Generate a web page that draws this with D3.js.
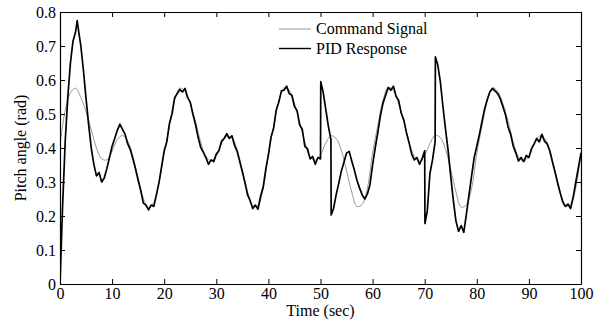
<!DOCTYPE html>
<html>
<head>
<meta charset="utf-8">
<script src="https://cdn.jsdelivr.net/npm/d3@7"></script>
<style>
  body { margin: 0; background: #fff; }
  svg { display: block; font-family: 'Liberation Serif', 'Times New Roman', serif; }
</style>
</head>
<body>
<svg id="chart"></svg>
<script>
// x ticks / y ticks
const xTicks = [0, 10, 20, 30, 40, 50, 60, 70, 80, 90, 100];
const yTicks = [0, 0.1, 0.2, 0.3, 0.4, 0.5, 0.6, 0.7, 0.8];
const seriesNames = ['Command Signal', 'PID Response'];

// command signal, one value per second (t = 0..100)
const cmdValues = [
  .410, .510, .562, .576, .548, .507, .453, .400, .368, .365,
  .390, .425, .437, .420, .375, .310, .252, .226, .240, .300,
  .385, .465, .540, .576, .568, .530, .478, .418, .375, .362,
  .378, .412, .434, .430, .395, .335, .272, .230, .232, .280,
  .383, .463, .538, .577, .570, .532, .476, .416, .373, .364,
  .380, .414, .436, .428, .393, .333, .270, .228, .234, .282,
  .386, .466, .541, .578, .569, .529, .477, .419, .376, .363,
  .379, .413, .437, .431, .396, .336, .271, .226, .233, .281,
  .384, .464, .539, .577, .567, .531, .479, .417, .374, .361,
  .377, .411, .435, .429, .394, .334, .273, .229, .235, .283,
  .388
];

// PID response, one value every 0.5 s (t = 0..100)
const pidValues = [
  .000, .230, .420, .550, .650, .715, .742, .752, .700, .628,
  .545, .468, .400, .352, .318, .328, .300, .312, .340, .372,
  .405, .428, .452, .470, .455, .440, .412, .395, .368, .338,
  .305, .275, .238, .232, .218, .232, .228, .262, .298, .345,
  .392, .418, .472, .500, .548, .560, .572, .565, .575, .548,
  .535, .500, .470, .432, .402, .388, .372, .352, .365, .360,
  .382, .392, .420, .428, .442, .428, .436, .408, .390, .360,
  .330, .298, .262, .245, .222, .232, .220, .258, .285, .338,
  .380, .432, .458, .512, .535, .568, .570, .582, .560, .555,
  .522, .510, .468, .455, .405, .398, .368, .375, .352, .372,
  .368, .565, .515, .465, .425, .222, .262, .296, .332, .358,
  .385, .390, .362, .335, .305, .282, .262, .250, .265, .292,
  .350, .400, .445, .495, .532, .555, .578, .570, .582, .552,
  .540, .502, .482, .445, .415, .382, .365, .372, .352, .368,
  .392, .215, .325, .365, .418, .645, .595, .522, .455, .392,
  .316, .245, .185, .155, .172, .152, .205, .262, .318, .372,
  .405, .440, .478, .515, .542, .565, .575, .568, .560, .545,
  .522, .498, .462, .440, .405, .385, .362, .372, .360, .378,
  .372, .398, .412, .428, .418, .440, .420, .412, .392, .360,
  .330, .298, .268, .242, .228, .235, .222, .255, .300, .342,
  .385
];

// extra samples at the spikes / jumps: [time, value]
const pidJumps = [
  [3.3, .775],
  [50.05, .595],
  [52.05, .203],
  [70.05, .178],
  [72.05, .668]
];

const W = 597, H = 324;
const margin = {top: 12, right: 16, bottom: 40, left: 60};
const plotW = W - margin.left - margin.right;
const plotH = H - margin.top - margin.bottom;

const svg = d3.select('#chart').attr('width', W).attr('height', H);

const x = d3.scaleLinear().domain([0, 100]).range([0, plotW]);
const y = d3.scaleLinear().domain([0, 0.8]).range([plotH, 0]);

const g = svg.append('g').attr('transform', `translate(${margin.left},${margin.top})`);

g.append('clipPath').attr('id', 'clip')
  .append('rect').attr('width', plotW).attr('height', plotH);

const cmdData = cmdValues.map((v, i) => ({t: i, v: v}));
const pidData = pidValues.map((v, i) => ({t: i * 0.5, v: v}))
  .concat(pidJumps.map(d => ({t: d[0], v: d[1]})))
  .sort((a, b) => a.t - b.t);

const line = d3.line().x(d => x(d.t)).y(d => y(d.v));

g.append('path')
  .datum(cmdData)
  .attr('clip-path', 'url(#clip)')
  .attr('fill', 'none')
  .attr('stroke', '#979797')
  .attr('stroke-width', 1)
  .attr('d', line.curve(d3.curveCatmullRom));

g.append('path')
  .datum(pidData)
  .attr('clip-path', 'url(#clip)')
  .attr('fill', 'none')
  .attr('stroke', '#000')
  .attr('stroke-width', 1.7)
  .attr('stroke-linejoin', 'round')
  .attr('d', line.curve(d3.curveLinear));

// axes: ticks point inward, box on all four sides
const fmtY = d => d === 0 ? '0' : d3.format('.1f')(d);

g.append('g')
  .attr('transform', `translate(0,${plotH})`)
  .call(d3.axisBottom(x).tickValues(xTicks).tickSizeInner(-5).tickSizeOuter(0).tickPadding(4));
g.append('g')
  .call(d3.axisTop(x).tickValues(xTicks).tickSizeInner(-5).tickSizeOuter(0).tickFormat(''));
g.append('g')
  .call(d3.axisLeft(y).tickValues(yTicks).tickSizeInner(-5).tickSizeOuter(0).tickPadding(4).tickFormat(fmtY));
g.append('g')
  .attr('transform', `translate(${plotW},0)`)
  .call(d3.axisRight(y).tickValues(yTicks).tickSizeInner(-5).tickSizeOuter(0).tickFormat(''));

g.selectAll('.domain').attr('stroke', '#000').attr('stroke-width', 1.2);
g.selectAll('.tick line').attr('stroke', '#000');
g.selectAll('.tick text')
  .attr('font-family', "'Liberation Serif', 'Times New Roman', serif")
  .attr('font-size', 16)
  .attr('fill', '#000');

// axis titles
svg.append('text')
  .attr('x', margin.left + x(50))
  .attr('y', 316)
  .attr('text-anchor', 'middle')
  .attr('font-size', 16)
  .text('Time (sec)');

svg.append('text')
  .attr('transform', `translate(26,${margin.top + plotH / 2}) rotate(-90)`)
  .attr('text-anchor', 'middle')
  .attr('font-size', 16)
  .text('Pitch angle (rad)');

// legend (no box)
const legend = svg.append('g');
const legendColors = ['#979797', '#000'];
const legendWidths = [1, 1.4];
seriesNames.forEach((name, i) => {
  const ly = 29 + i * 19.5;
  legend.append('line')
    .attr('x1', 279).attr('x2', 311)
    .attr('y1', ly).attr('y2', ly)
    .attr('stroke', legendColors[i])
    .attr('stroke-width', legendWidths[i]);
  legend.append('text')
    .attr('x', 316).attr('y', ly + 5)
    .attr('font-size', 16)
    .text(name);
});
</script>
</body>
</html>
